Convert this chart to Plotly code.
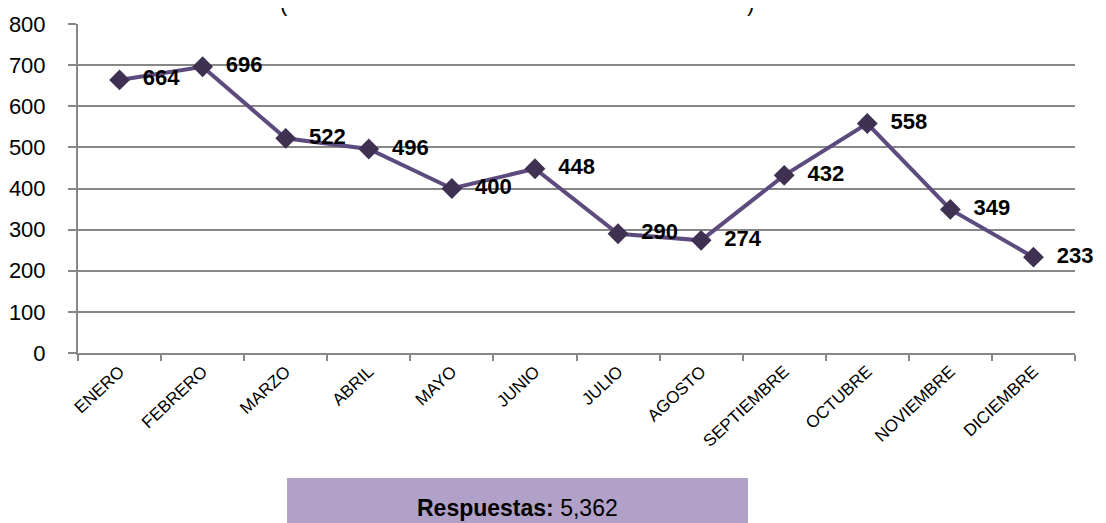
import plotly.graph_objects as go

meses = ['ENERO', 'FEBRERO', 'MARZO', 'ABRIL', 'MAYO', 'JUNIO', 'JULIO',
         'AGOSTO', 'SEPTIEMBRE', 'OCTUBRE', 'NOVIEMBRE', 'DICIEMBRE']
respuestas = [664, 696, 522, 496, 400, 448, 290, 274, 432, 558, 349, 233]
total = 5362

# la página deja 8px de margen en el body, se compensa aquí
fig = go.Figure()
fig.add_trace(go.Scatter(
    x=meses, y=respuestas,
    mode='lines+markers+text',
    line=dict(color='#5E4B7E', width=4),
    marker=dict(symbol='diamond', size=16, color='#3F3151'),
    text=['<b>\u00a0\u00a0' + str(v) + '</b>' for v in respuestas],
    textposition='middle right',
    textfont=dict(family='Liberation Sans, Arial, sans-serif', size=22, color='black'),
    cliponaxis=False,
    showlegend=False,
))

fig.update_layout(
    width=1106, height=523,
    margin=dict(l=70, r=39, t=16, b=178),
    paper_bgcolor='white', plot_bgcolor='white',
    font=dict(family='Liberation Sans, Arial, sans-serif', color='black'),
    xaxis=dict(
        type='category', range=[-0.5, len(meses) - 0.5],
        tickson='boundaries', ticks='outside', ticklen=6,
        tickcolor='#878787', tickwidth=2,
        showline=True, linecolor='#878787', linewidth=2,
        showgrid=False, tickangle=-43, automargin=False,
        tickfont=dict(family='Liberation Sans, Arial, sans-serif', size=17),
    ),
    yaxis=dict(
        range=[0, 800], dtick=100, ticks='outside', ticklen=8,
        tickcolor='#878787', tickwidth=2,
        showline=True, linecolor='#878787', linewidth=2,
        gridcolor='#878787', gridwidth=2,
        ticklabelstandoff=18, automargin=False,
        tickfont=dict(family='Liberation Sans, Arial, sans-serif', size=22),
        zeroline=False,
    ),
)

# caja de total
fig.add_shape(type='rect', xref='paper', yref='paper',
              x0=(287 - 78) / 997, x1=(748 - 78) / 997,
              y0=-175 / 329, y1=-125 / 329,
              fillcolor='#B1A0C7', line=dict(width=0), layer='below')
fig.add_annotation(xref='paper', yref='paper', x=(517 - 78) / 997, y=-155 / 329,
                   text='<b>Respuestas:</b> ' + f'{total:,}', showarrow=False,
                   yanchor='middle',
                   font=dict(family='Liberation Sans, Arial, sans-serif', size=23, color='black'))

# restos del título recortado
for xp, s in [(278, '('), (756, ')')]:
    fig.add_annotation(xref='paper', yref='paper', x=(xp - 78) / 997, y=1 + 6 / 329,
                       text=s, showarrow=False, yanchor='bottom',
                       font=dict(family='Liberation Sans, Arial, sans-serif', size=22, color='black'))

fig.write_html('out.html')
